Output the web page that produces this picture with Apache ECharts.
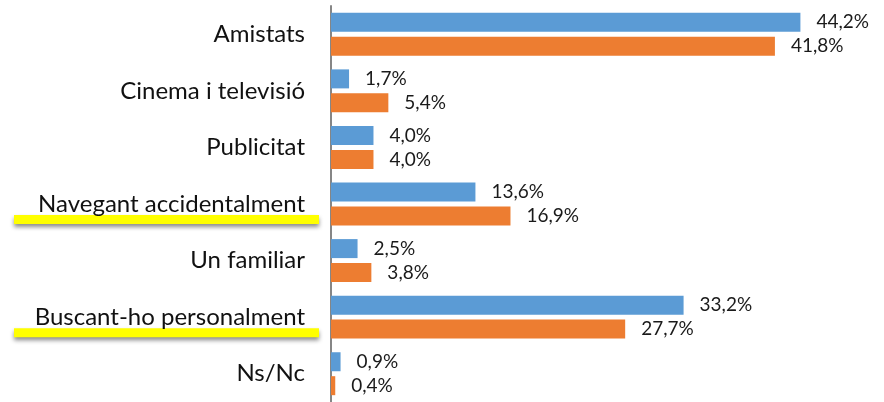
<!DOCTYPE html>
<html>
<head>
<meta charset="utf-8">
<script src="https://cdn.jsdelivr.net/npm/echarts@6/dist/echarts.min.js"></script>
<style>
    html, body { margin: 0; padding: 0; background: #fff; }
    #main { width: 884px; height: 402px; }
</style>
</head>
<body>
<div id="main"></div>
<script>
// 类别与数据
const categories = ['Amistats', 'Cinema i televisió', 'Publicitat', 'Navegant accidentalment', 'Un familiar', 'Buscant-ho personalment', 'Ns/Nc'];
const blueValues = [44.2, 1.7, 4.0, 13.6, 2.5, 33.2, 0.9];
const orangeValues = [41.8, 5.4, 4.0, 16.9, 3.8, 27.7, 0.4];
const highlighted = ['Navegant accidentalment', 'Buscant-ho personalment'];

const chart = echarts.init(document.getElementById('main'));

const valueLabel = {
    show: true,
    position: 'right',
    distance: 16,
    fontFamily: 'Lato',
    fontSize: 19,
    color: '#1a1a1a',
    formatter: p => p.value.toFixed(1).replace('.', ',') + '%'
};

chart.setOption({
    animation: false,
    grid: {
        left: 331,
        right: 22,
        top: 6,
        bottom: -5
    },
    xAxis: {
        type: 'value',
        min: 0,
        max: 50,
        show: false
    },
    yAxis: {
        type: 'category',
        inverse: true,
        data: categories,
        axisLine: { lineStyle: { color: '#868686', width: 2 } },
        axisTick: { show: false },
        axisLabel: {
            margin: 26,
            fontFamily: 'Lato',
            fontSize: 24,
            color: '#111'
        }
    },
    series: [{
        type: 'bar',
        data: blueValues,
        barWidth: 19,
        barGap: '26%',
        itemStyle: { color: '#5b9bd5' },
        label: valueLabel
    }, {
        type: 'bar',
        data: orangeValues,
        barWidth: 19,
        itemStyle: { color: '#ed7d31' },
        label: valueLabel
    }]
});

// 黄色下划线
chart.setOption({
    graphic: highlighted.map(name => {
        const y = chart.convertToPixel({ yAxisIndex: 0 }, name);
        return {
            type: 'rect',
            shape: { x: 14, y: y + 11, width: 305, height: 9 },
            style: {
                fill: '#ffff00',
                shadowBlur: 4,
                shadowOffsetY: 3,
                shadowColor: 'rgba(0, 0, 0, 0.45)'
            },
            z: -1
        };
    })
});
</script>
</body>
</html>
